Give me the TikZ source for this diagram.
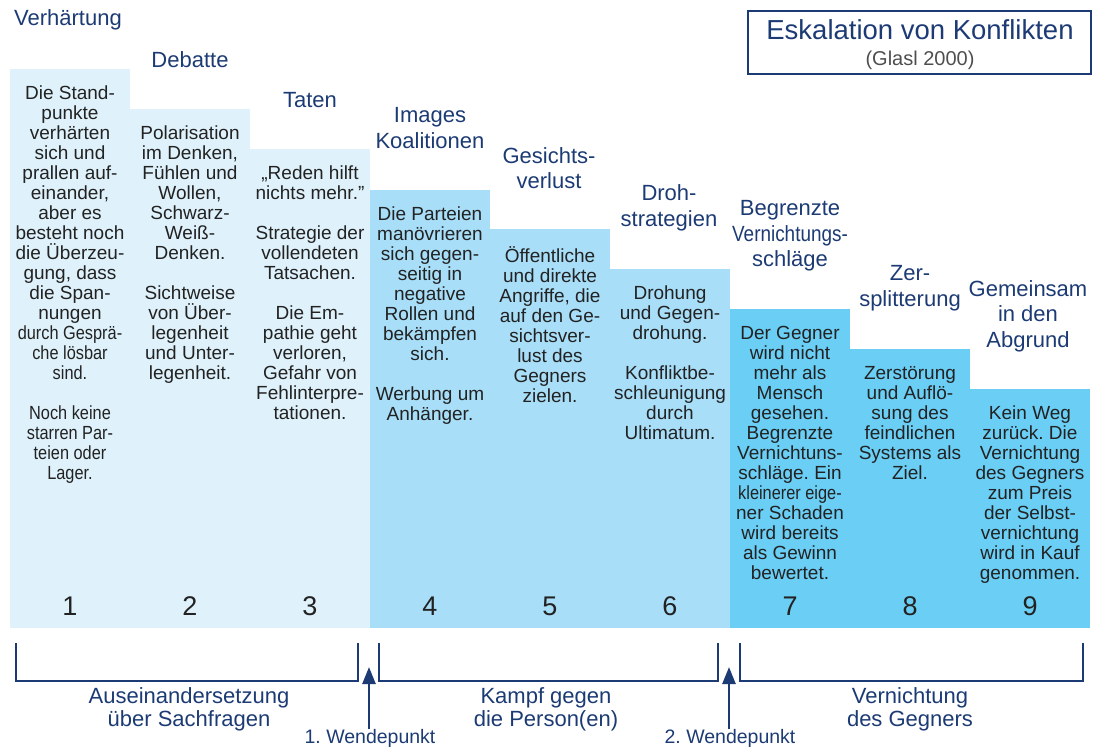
\documentclass[tikz,border=0pt]{standalone}
\usepackage{fontspec}
\setmainfont{Liberation Sans}
\newfontfamily\condfont[FakeStretch=0.86]{Liberation Sans}
\usetikzlibrary{arrows.meta}
\definecolor{lightc}{HTML}{DFF2FB}
\definecolor{midc}{HTML}{A8DEF8}
\definecolor{darkc}{HTML}{6BCEF5}
\definecolor{navy}{HTML}{1C3B74}
\definecolor{bodyc}{HTML}{222222}
\frenchspacing
\begin{document}
\begin{tikzpicture}[x=1pt,y=-1pt,
  body/.style={font=\fontsize{19}{20}\selectfont, text=bodyc, align=center, inner sep=0pt, anchor=north},
  ttl/.style={font=\fontsize{22}{25.5}\selectfont, text=navy, align=center, inner sep=0pt},
  num/.style={font=\fontsize{27}{27}\selectfont, text=bodyc, inner sep=0pt},
  brk/.style={draw=navy, line width=2.5pt},
  grp/.style={font=\fontsize{22}{23}\selectfont, text=navy, align=center, inner sep=0pt},
  wp/.style={font=\fontsize{19.5}{19.5}\selectfont, text=navy, inner sep=0pt},
  wparrow/.style={draw=navy, line width=2.5pt, -{Triangle[length=17pt,width=13pt]}}]
\useasboundingbox (0,0) rectangle (1101,747);
% columns
\fill[lightc] (10,69) rectangle (130,628);
\fill[lightc] (130,109) rectangle (250,628);
\fill[lightc] (250,149) rectangle (370,628);
\fill[midc] (370,190) rectangle (490,628);
\fill[midc] (490,229) rectangle (610,628);
\fill[midc] (610,269) rectangle (730,628);
\fill[darkc] (730,309) rectangle (850,628);
\fill[darkc] (850,349) rectangle (970,628);
\fill[darkc] (970,389) rectangle (1090,628);
% titles
\node[ttl] (t1) at (68,20) {Verhärtung};
\node[ttl] (t2) at (190,60) {Debatte};
\node[ttl] (t3) at (310,100) {Taten};
\node[ttl] (t4) at (430,128) {Images\\Koalitionen};
\node[ttl] (t5) at (549,168) {Gesichts-\\verlust};
\node[ttl] (t6) at (669,208) {Droh-\\strategien};
\node[ttl] (t7) at (790,236) {Begrenzte\\{\condfont Vernichtungs-}\\schläge};
\node[ttl] (t8) at (910,288) {Zer-\\splitterung};
\node[ttl] (t9) at (1028,316) {Gemeinsam\\in den\\Abgrund};
% body texts
\node[body] (b1) at (70,86) {Die Stand-\\punkte\\verhärten\\sich und\\prallen auf-\\einander,\\aber es\\besteht noch\\die Überzeu-\\gung, dass\\die Span-\\nungen\\{\condfont durch Gesprä-}\\{\condfont che lösbar}\\{\condfont sind.}\\[20pt]{\condfont Noch keine}\\{\condfont starren Par-}\\{\condfont teien oder}\\{\condfont Lager.}};
\node[body] (b2) at (190,126) {Polarisation\\im Denken,\\Fühlen und\\Wollen,\\Schwarz-\\Weiß-\\Denken.\\[20pt]Sichtweise\\von Über-\\legenheit\\und Unter-\\legenheit.};
\node[body] (b3) at (310,166) {„Reden hilft\\nichts mehr.”\\[20pt]Strategie der\\vollendeten\\Tatsachen.\\[20pt]Die Em-\\pathie geht\\verloren,\\Gefahr von\\Fehlinterpre-\\tationen.};
\node[body] (b4) at (430,207) {Die Parteien\\manövrieren\\sich gegen-\\seitig in\\negative\\Rollen und\\bekämpfen\\sich.\\[20pt]Werbung um\\Anhänger.};
\node[body] (b5) at (550,246) {Öffentliche\\und direkte\\Angriffe, die\\auf den Ge-\\sichtsver-\\lust des\\Gegners\\zielen.};
\node[body] (b6) at (670,286) {Drohung\\und Gegen-\\drohung.\\[20pt]Konfliktbe-\\schleunigung\\durch\\Ultimatum.};
\node[body] (b7) at (790,326) {Der Gegner\\wird nicht\\mehr als\\Mensch\\gesehen.\\Begrenzte\\Vernichtuns-\\schläge. Ein\\{\condfont kleinerer eige-}\\ner Schaden\\wird bereits\\als Gewinn\\bewertet.};
\node[body] (b8) at (910,366) {Zerstörung\\und Auflö-\\sung des\\feindlichen\\Systems als\\Ziel.};
\node[body] (b9) at (1030,406) {Kein Weg\\zurück. Die\\Vernichtung\\des Gegners\\zum Preis\\der Selbst-\\vernichtung\\wird in Kauf\\genommen.};
% numbers
\foreach \i in {1,...,9} {
  \node[num] (n\i) at ({70+120*(\i-1)},606) {\i};
}
% title box
\node[draw=navy, line width=1.5pt, minimum width=343pt, minimum height=63pt, inner sep=0pt] (box) at (919.5,42.5) {};
\node[font=\fontsize{27.5}{27.5}\selectfont, text=navy, inner sep=0pt] (ttlmain) at (920,30) {Eskalation von Konflikten};
\node[font=\fontsize{20}{20}\selectfont, text=bodyc!80!white, inner sep=0pt] (ttlsub) at (920,60) {(Glasl 2000)};
% brackets
\draw[brk] (16,643) |- (358,681) -- (358,643);
\draw[brk] (379,643) |- (718,681) -- (718,643);
\draw[brk] (740,643) |- (1083,681) -- (1083,643);
% group labels
\node[grp] (g1) at (189,709) {Auseinandersetzung\\über Sachfragen};
\node[grp] (g2) at (546,709) {Kampf gegen\\die Person(en)};
\node[grp] (g3) at (910,709) {Vernichtung\\des Gegners};
% turning points
\node[wp] (w1) at (370,738) {1. Wendepunkt};
\node[wp] (w2) at (730,738) {2. Wendepunkt};
\coordinate (a1) at (369,667);
\coordinate (a2) at (729,667);
\draw[wparrow] (w1.north -| a1) -- (a1);
\draw[wparrow] (w2.north -| a2) -- (a2);
\end{tikzpicture}
\end{document}
